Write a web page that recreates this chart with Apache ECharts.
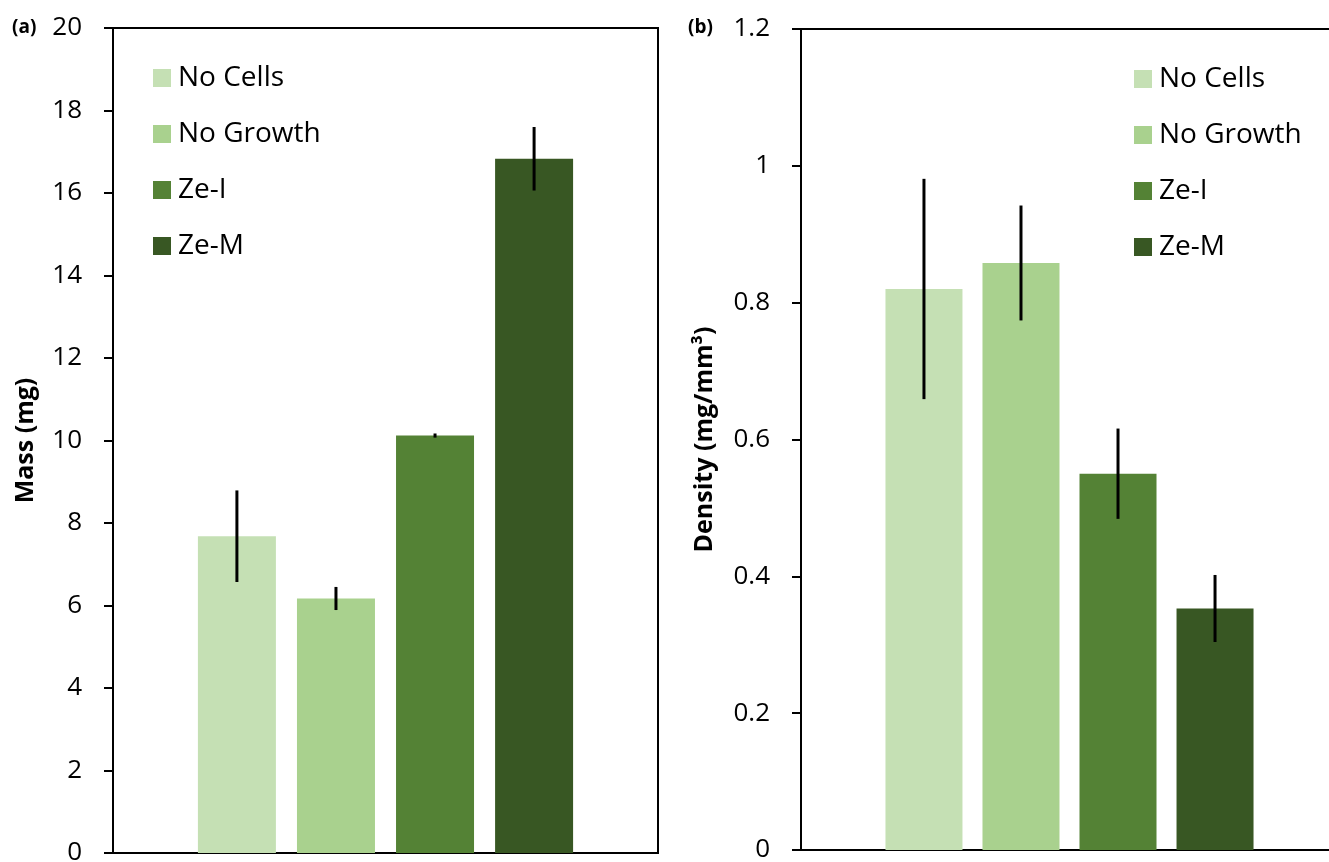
<!DOCTYPE html>
<html>
<head>
<meta charset="utf-8">
<script src="https://cdn.jsdelivr.net/npm/echarts@6/dist/echarts.min.js"></script>
<style>html,body{margin:0;padding:0;background:#fff}#c{width:1329px;height:862px}</style>
</head>
<body>
<div id="c"></div>
<script>
const categories = ['No Cells', 'No Growth', 'Ze-I', 'Ze-M'];
const massMean = [7.68, 6.17, 10.12, 16.83];
const massErr = [1.11, 0.28, 0.05, 0.77];
const densityMean = [0.820, 0.858, 0.550, 0.353];
const densityErr = [0.161, 0.084, 0.066, 0.049];
const massTicks = { min: 0, max: 20, interval: 2 };
const densityTicks = { min: 0, max: 1.2, interval: 0.2 };
const colors = ['#C5E0B4', '#A9D18E', '#548235', '#385723'];

const FONT = 'Open Sans';
const BW_A = 78, GAP_A = 0.27, BW_B = 77, GAP_B = 0.26;

function errRender(bw, gap) {
  return function (params, api) {
    const i = api.value(3);
    const lo = api.coord([0, api.value(1)]);
    const hi = api.coord([0, api.value(2)]);
    const cx = lo[0] + (i - 1.5) * bw * (1 + gap);
    return {
      type: 'line',
      shape: { x1: cx, y1: hi[1], x2: cx, y2: lo[1] },
      style: { stroke: '#000', lineWidth: 3 }
    };
  };
}

function yAxisCfg(ticks, name, gap, gi, fmt) {
  return {
    type: 'value', gridIndex: gi, min: ticks.min, max: ticks.max, interval: ticks.interval,
    name: name, nameLocation: 'middle', nameRotate: 90, nameGap: gap,
    nameTextStyle: { fontFamily: FONT, fontWeight: 'bold', fontSize: 25, color: '#000' },
    axisLine: { show: true, lineStyle: { color: '#000', width: 2 } },
    axisTick: { show: true, inside: false, length: 9, lineStyle: { color: '#000', width: 2 } },
    axisLabel: { fontFamily: FONT, fontSize: 26, color: '#000', margin: 31, formatter: fmt },
    splitLine: { show: false }
  };
}
function xAxisCfg(gi) {
  return {
    type: 'category', gridIndex: gi, data: [''],
    axisLine: { show: true, lineStyle: { color: '#000', width: 2 } },
    axisTick: { show: false }, axisLabel: { show: false }
  };
}
function legendCfg(left, top) {
  return {
    orient: 'vertical', left: left, top: top, padding: 0,
    data: categories, icon: 'rect', itemWidth: 18, itemHeight: 18, itemGap: 28,
    textStyle: { fontFamily: FONT, fontSize: 28, lineHeight: 28, color: '#000', padding: [0, 0, 0, 2] }
  };
}

const series = [];
categories.forEach((c, i) => {
  series.push({ type: 'bar', name: c, xAxisIndex: 0, yAxisIndex: 0, data: [massMean[i]],
    barWidth: BW_A, barGap: (GAP_A * 100) + '%', itemStyle: { color: colors[i] } });
});
categories.forEach((c, i) => {
  series.push({ type: 'bar', name: c, xAxisIndex: 1, yAxisIndex: 1, data: [densityMean[i]],
    barWidth: BW_B, barGap: (GAP_B * 100) + '%', itemStyle: { color: colors[i] } });
});
series.push({ type: 'custom', name: 'errA', xAxisIndex: 0, yAxisIndex: 0, z: 10,
  renderItem: errRender(BW_A, GAP_A), encode: { x: 0, y: [1, 2] },
  data: massMean.map((m, i) => [0, m - massErr[i], m + massErr[i], i]) });
series.push({ type: 'custom', name: 'errB', xAxisIndex: 1, yAxisIndex: 1, z: 10,
  renderItem: errRender(BW_B, GAP_B), encode: { x: 0, y: [1, 2] },
  data: densityMean.map((m, i) => [0, m - densityErr[i], m + densityErr[i], i]) });

const chart = echarts.init(document.getElementById('c'), null, { renderer: 'canvas' });
chart.setOption({
  animation: false,
  backgroundColor: '#fff',
  grid: [
    { left: 113, top: 28, width: 545, height: 825, show: true, borderColor: '#000', borderWidth: 2, containLabel: false, outerBoundsMode: 'none' },
    { left: 801, top: 29, width: 537, height: 821, show: true, borderColor: '#000', borderWidth: 2, containLabel: false, outerBoundsMode: 'none' }
  ],
  xAxis: [xAxisCfg(0), xAxisCfg(1)],
  yAxis: [
    yAxisCfg(massTicks, 'Mass (mg)', 75, 0, v => String(v)),
    yAxisCfg(densityTicks, 'Density (mg/mm³)', 84, 1, v => String(+v.toFixed(1)))
  ],
  legend: [legendCfg(153, 64), legendCfg(1134, 65)],
  graphic: [
    { type: 'text', left: 12, top: 18, style: { text: '(a)', fontFamily: FONT, fontWeight: 'bold', fontSize: 19, fill: '#000' } },
    { type: 'text', left: 688, top: 18, style: { text: '(b)', fontFamily: FONT, fontWeight: 'bold', fontSize: 19, fill: '#000' } }
  ],
  series: series
});
</script>
</body>
</html>
